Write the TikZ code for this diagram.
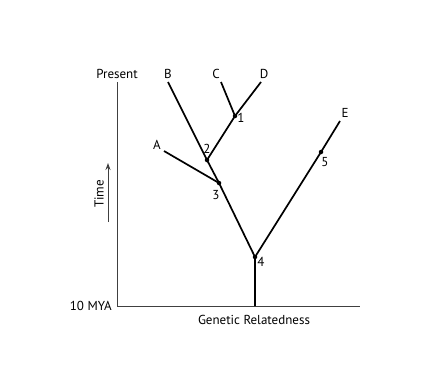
\documentclass[tikz,border=0pt]{standalone}
\usepackage{fontspec}
\setmainfont{PT Sans}
\usetikzlibrary{arrows.meta}
\begin{document}
\begin{tikzpicture}[x=1pt,y=-1pt,
  axis/.style={draw=black!75,line width=1pt},
  branch/.style={draw=black,line width=1.7pt},
  dot/.style={circle,fill=black,inner sep=0pt,minimum size=4.5pt},
  lbl/.style={font=\fontsize{13}{15}\selectfont,inner sep=0pt}]
\useasboundingbox (0,0) rectangle (431,380);
% axes
\coordinate (top) at (117,82);
\coordinate (orig) at (117,306);
\coordinate (xend) at (360,306);
\draw[axis] (top) -- (orig) -- (xend);
\node[lbl] (present) at (117,74) {Present};
\node[lbl,anchor=east] (mya) at (112,306) {10 MYA};
\node[lbl] (gr) at (254,320) {Genetic Relatedness};
% time arrow
\coordinate (tb) at (108,222);
\coordinate (tt) at (108,163);
\draw[axis,-{Stealth[length=7pt,width=5pt]}] (tb) -- (tt);
\node[lbl,rotate=90] (time) at (99,194) {Time};
% tree nodes
\node[dot] (n4) at (255,257) {};
\node[dot] (n3) at (219,183) {};
\node[dot] (n2) at (207,160) {};
\node[dot] (n1) at (235,116) {};
\node[dot] (n5) at (321,152) {};
\coordinate (root) at (255,306);
\coordinate (A) at (164,151);
\coordinate (B) at (168,82);
\coordinate (C) at (221,82);
\coordinate (D) at (261,82);
\coordinate (E) at (340,121);
\draw[branch] (root) -- (n4.center) -- (n3.center) -- (n2.center) -- (B);
\draw[branch] (n3.center) -- (A);
\draw[branch] (n2.center) -- (n1.center) -- (D);
\draw[branch] (n1.center) -- (C);
\draw[branch] (n4.center) -- (n5.center) -- (E);
% labels
\node[lbl] (lA) at (157,145) {A};
\node[lbl] (lB) at (168,74) {B};
\node[lbl] (lC) at (216,74) {C};
\node[lbl] (lD) at (264,74) {D};
\node[lbl] (lE) at (345,113) {E};
\node[lbl] (l1) at (241,118) {1};
\node[lbl] (l2) at (207,149) {2};
\node[lbl] (l3) at (216,195) {3};
\node[lbl] (l4) at (261,262) {4};
\node[lbl] (l5) at (325,162) {5};
\end{tikzpicture}
\end{document}
